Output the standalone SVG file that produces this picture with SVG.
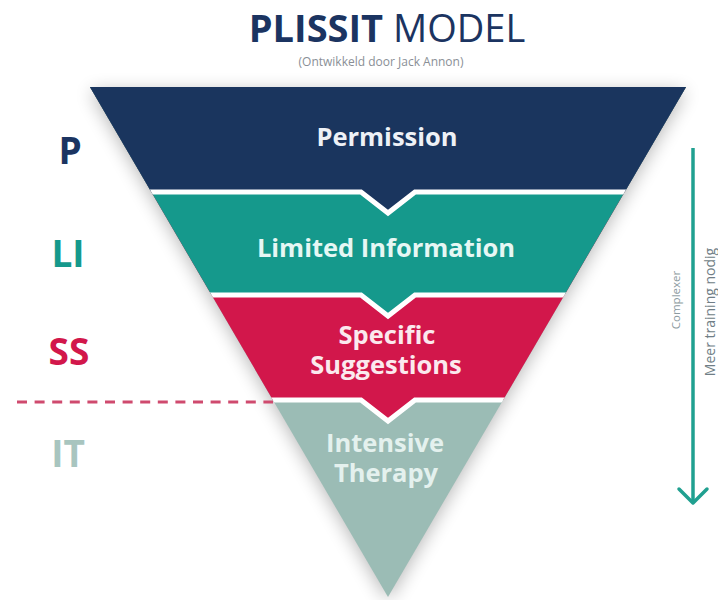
<svg xmlns="http://www.w3.org/2000/svg" width="718" height="600" viewBox="0 0 718 600">
  <defs>
    <clipPath id="tri">
      <polygon points="90,87 686,87 388,597"/>
    </clipPath>
    <filter id="shadow" x="-20%" y="-20%" width="140%" height="140%">
      <feGaussianBlur stdDeviation="9"/>
    </filter>
    <style>
      .band { font-family: "Open Sans", "Liberation Sans", sans-serif; font-weight: 700; font-size: 25.5px; text-anchor: middle; }
      .lbl { font-family: "Open Sans", "Liberation Sans", sans-serif; font-weight: 700; font-size: 37px; text-anchor: middle; }
      .side { font-family: "Open Sans", "Liberation Sans", sans-serif; text-anchor: middle; }
      .sep { fill: none; stroke: #ffffff; stroke-width: 5; }
    </style>
  </defs>
  <rect x="0" y="0" width="718" height="600" fill="#ffffff"/>

  <g id="title">
    <text x="387" y="42" font-family="'Open Sans', 'Liberation Sans', sans-serif" font-size="38" fill="#1b3461" text-anchor="middle"><tspan font-weight="700">PLISSIT</tspan> <tspan font-weight="400">MODEL</tspan></text>
    <text x="381" y="66" font-family="'Open Sans', 'Liberation Sans', sans-serif" font-size="12" fill="#8a8f96" text-anchor="middle">(Ontwikkeld door Jack Annon)</text>
  </g>

  <polygon points="90,87 686,87 388,597" fill="#000000" opacity="0.28" filter="url(#shadow)" transform="translate(0,4)"/>

  <g id="pyramid" clip-path="url(#tri)">
    <g id="band-it">
      <rect x="0" y="80" width="718" height="520" fill="#9bbcb5"/>
    </g>
    <g id="band-ss">
      <polygon points="0,80 718,80 718,400 415,400 388,421 361,400 0,400" fill="#d2174b"/>
    </g>
    <g id="band-li">
      <polygon points="0,80 718,80 718,295 415,295 388,316 361,295 0,295" fill="#15998c"/>
    </g>
    <g id="band-p">
      <polygon points="0,80 718,80 718,192 415,192 388,213 361,192 0,192" fill="#1a355e"/>
    </g>
    <g id="separators">
      <polyline class="sep" points="0,192 361,192 388,213 415,192 718,192"/>
      <polyline class="sep" points="0,295 361,295 388,316 415,295 718,295"/>
      <polyline class="sep" points="0,400 361,400 388,421 415,400 718,400"/>
    </g>
  </g>

  <g id="band-texts">
    <text class="band" x="387" y="146" fill="#eef1f6">Permission</text>
    <text class="band" x="386" y="257" fill="#e6f7f4">Limited Information</text>
    <text class="band" x="387" y="344" fill="#fbe9ee">Specific</text>
    <text class="band" x="386" y="374" fill="#fbe9ee">Suggestions</text>
    <text class="band" x="385" y="452" fill="#e4f1ee">Intensive</text>
    <text class="band" x="386" y="482" fill="#e4f1ee">Therapy</text>
  </g>

  <g id="labels">
    <text class="lbl" x="70" y="164" fill="#1b3461">P</text>
    <text class="lbl" x="68" y="267" fill="#15998c">LI</text>
    <text class="lbl" x="69" y="365" fill="#d2174b">SS</text>
    <text class="lbl" x="68" y="467" fill="#a8c5bf">IT</text>
  </g>

  <g id="connectors">
    <line x1="17" y1="402" x2="273" y2="402" stroke="#cf4a6e" stroke-width="3" stroke-dasharray="10 7.6"/>
    <line x1="693" y1="148" x2="693" y2="503" stroke="#20a090" stroke-width="3.5"/>
    <polyline points="679,489 693,503 707,489" fill="none" stroke="#20a090" stroke-width="3.5" stroke-linecap="round" stroke-linejoin="round"/>
  </g>

  <g id="side-texts">
    <text class="side" transform="translate(680,300) rotate(-90)" font-size="11.5" fill="#8c9aa0">Complexer</text>
    <text class="side" transform="translate(715,312) rotate(-90)" font-size="14" fill="#707e86">Meer training nodig</text>
  </g>
</svg>
